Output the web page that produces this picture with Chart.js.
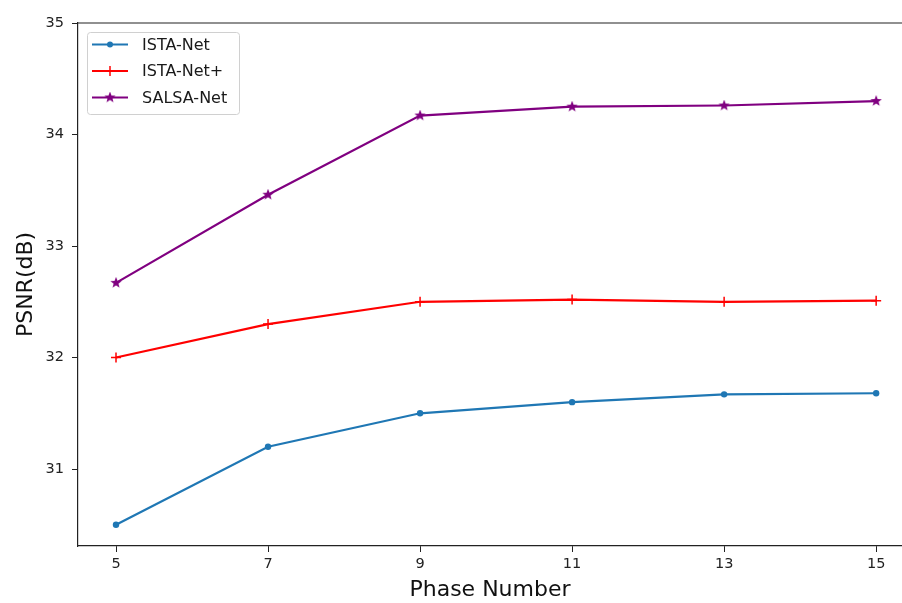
<!DOCTYPE html>
<html>
<head>
<meta charset="utf-8">
<script src="https://cdn.jsdelivr.net/npm/chart.js@4.4.1/dist/chart.umd.min.js"></script>
<style>
html,body{margin:0;padding:0;background:#fff;}
#wrap{width:902px;height:603px;position:relative;}
</style>
</head>
<body>
<div id="wrap"><canvas id="c" width="902" height="603"></canvas></div>
<script>
const phases = [5, 7, 9, 11, 13, 15];
const istaNet = [30.50, 31.20, 31.50, 31.60, 31.67, 31.68];
const istaNetPlus = [32.00, 32.30, 32.50, 32.52, 32.50, 32.51];
const salsaNet = [32.67, 33.46, 34.17, 34.25, 34.26, 34.30];
const yTicks = [31, 32, 33, 34, 35];
const xTicks = [5, 7, 9, 11, 13, 15];

function starImage(color, size) {
  const c = document.createElement('canvas');
  c.width = size; c.height = size;
  const g = c.getContext('2d');
  const cx = size / 2, cy = size / 2, R = size / 2, r = R * 0.42;
  g.beginPath();
  for (let i = 0; i < 10; i++) {
    const rad = i % 2 === 0 ? R : r;
    const a = -Math.PI / 2 + i * Math.PI / 5;
    const x = cx + rad * Math.cos(a), y = cy + rad * Math.sin(a);
    if (i === 0) g.moveTo(x, y); else g.lineTo(x, y);
  }
  g.closePath();
  g.fillStyle = color; g.fill();
  return c;
}
const star = starImage('#800080', 12);

const pts = arr => arr.map((v, i) => ({x: phases[i], y: v}));

const legendPlugin = {
  id: 'mplLegend',
  afterDraw(chart) {
    const ctx = chart.ctx;
    const x0 = 87, y0 = 32, w = 152, h = 82;
    ctx.save();
    ctx.fillStyle = 'rgba(255,255,255,0.8)';
    ctx.strokeStyle = '#d0d0d0';
    ctx.lineWidth = 1;
    ctx.beginPath();
    ctx.roundRect(x0 + 0.5, y0 + 0.5, w, h, 3);
    ctx.fill(); ctx.stroke();
    const rows = [44.5, 71, 97.5];
    chart.data.datasets.forEach((ds, i) => {
      const y = rows[i];
      ctx.strokeStyle = ds.borderColor;
      ctx.lineWidth = 2.2;
      ctx.beginPath(); ctx.moveTo(92, y); ctx.lineTo(128, y); ctx.stroke();
      const cx = 110;
      if (ds.pointStyle === 'circle') {
        ctx.fillStyle = ds.borderColor;
        ctx.beginPath(); ctx.arc(cx, y, 3, 0, Math.PI * 2); ctx.fill();
      } else if (ds.pointStyle === 'cross') {
        ctx.strokeStyle = ds.borderColor; ctx.lineWidth = 1.5;
        ctx.beginPath(); ctx.moveTo(cx, y - 5); ctx.lineTo(cx, y + 5); ctx.stroke();
      } else {
        ctx.drawImage(star, cx - 6, y - 6);
      }
      ctx.fillStyle = '#1a1a1a';
      ctx.font = '16px "DejaVu Sans"';
      ctx.textBaseline = 'middle';
      ctx.textAlign = 'left';
      ctx.fillText(ds.label, 142, y + 1);
    });
    ctx.restore();
  }
};

new Chart(document.getElementById('c'), {
  type: 'line',
  data: {
    datasets: [
      {label: 'ISTA-Net', data: pts(istaNet), borderColor: '#1f77b4', backgroundColor: '#1f77b4',
       pointStyle: 'circle', pointRadius: 3.2, borderWidth: 2.2, pointBorderWidth: 0},
      {label: 'ISTA-Net+', data: pts(istaNetPlus), borderColor: '#ff0000', backgroundColor: '#ff0000',
       pointStyle: 'cross', pointRadius: 5, borderWidth: 2.2, pointBorderWidth: 1.5},
      {label: 'SALSA-Net', data: pts(salsaNet), borderColor: '#800080', backgroundColor: '#800080',
       pointStyle: star, pointRadius: 6, borderWidth: 2.2}
    ]
  },
  options: {
    responsive: false,
    animation: false,
    layout: {autoPadding: false, padding: {top: 23, right: 0, left: 0, bottom: 0}},
    plugins: {legend: {display: false}, tooltip: {enabled: false}},
    scales: {
      x: {
        type: 'linear', min: 4.5, max: 15.34,
        afterBuildTicks: s => { s.ticks = xTicks.map(v => ({value: v})); },
        afterFit: s => { s.height = 57; s.paddingRight = 0; s.paddingLeft = 0; },
        grid: {display: true, drawOnChartArea: false, drawTicks: true, tickLength: 6, tickColor: '#222', color: '#222'},
        border: {display: true, color: '#222', width: 1.2},
        ticks: {color: '#222', font: {family: 'DejaVu Sans', size: 14.5}, padding: 4, maxRotation: 0},
        title: {display: true, text: 'Phase Number', color: '#111', font: {family: 'DejaVu Sans', size: 22, lineHeight: 1.2}, padding: {top: 0, bottom: 0}}
      },
      y: {
        type: 'linear', min: 30.31, max: 35,
        afterBuildTicks: s => { s.ticks = yTicks.map(v => ({value: v})); },
        afterFit: s => { s.width = 78; s.paddingTop = 0; s.paddingBottom = 0; },
        grid: {display: true, drawOnChartArea: false, drawTicks: true, tickLength: 6, tickColor: '#222', color: '#222'},
        border: {display: true, color: '#222', width: 1.2},
        ticks: {color: '#222', font: {family: 'DejaVu Sans', size: 14.5}, padding: 8},
        title: {display: true, text: 'PSNR(dB)', color: '#111', font: {family: 'DejaVu Sans', size: 22, lineHeight: 1.2}, padding: {top: 13, bottom: 0}}
      }
    }
  },
  plugins: [legendPlugin, {
    id: 'topSpine',
    afterDraw(chart) {
      const {ctx, chartArea: a} = chart;
      ctx.save();
      ctx.strokeStyle = '#222'; ctx.lineWidth = 1.2;
      ctx.beginPath(); ctx.moveTo(a.left, a.top); ctx.lineTo(a.right, a.top); ctx.stroke();
      ctx.restore();
    }
  }]
});
</script>
</body>
</html>
